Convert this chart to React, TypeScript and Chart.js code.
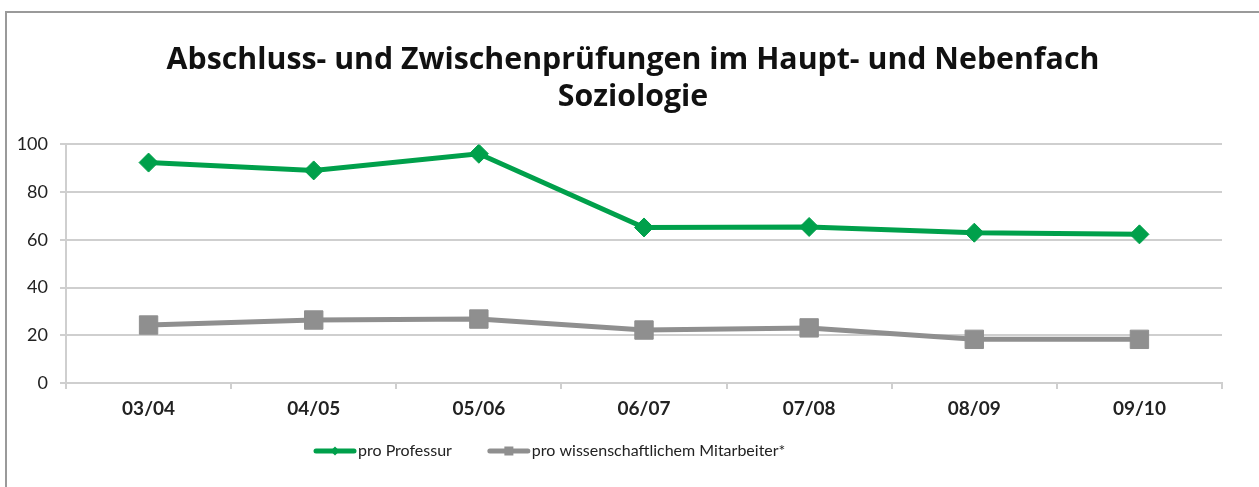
import React, { useEffect, useRef } from "react";
import { Chart, registerables } from "chart.js";

Chart.register(...registerables);

const categories = ["03/04", "04/05", "05/06", "06/07", "07/08", "08/09", "09/10"];
const proProfessur = [92.4, 89.1, 96.1, 65.2, 65.4, 63.0, 62.3];
const proMitarbeiter = [24.3, 26.4, 26.8, 22.2, 23.1, 18.3, 18.3];
const seriesNames = ["pro Professur", "pro wissenschaftlichem Mitarbeiter*"];
const titleLines = ["Abschluss- und Zwischenprüfungen im Haupt- und Nebenfach", "Soziologie"];

const GREEN = "#00a04b";
const GRAY = "#8f8f8f";
const GRID = "#cfcfcf";
const FONT = "Lato, 'Noto Sans', sans-serif";
const TITLE_FONT = "'Open Sans', 'Noto Sans', sans-serif";

const framePlugin = {
  id: "frame",
  afterLayout(chart: any) {
    const t = chart.titleBlock;
    if (t) {
      t.left += 19;
      t.right += 19;
    }
  },
  beforeDraw(chart: any) {
    const ctx = chart.ctx;
    ctx.save();
    ctx.fillStyle = "#ffffff";
    ctx.fillRect(0, 0, chart.width, chart.height);
    ctx.strokeStyle = "#9a9a9a";
    ctx.lineWidth = 2;
    ctx.beginPath();
    ctx.moveTo(6, chart.height);
    ctx.lineTo(6, 12);
    ctx.lineTo(chart.width, 12);
    ctx.stroke();
    ctx.restore();
  },
};

const legendPlugin = {
  id: "customLegend",
  afterDraw(chart: any) {
    const ctx = chart.ctx;
    ctx.save();
    ctx.font = `16px ${FONT}`;
    ctx.textBaseline = "middle";
    ctx.textAlign = "left";
    let x = 314;
    const y = 451;
    chart.data.datasets.forEach((ds: any, i: number) => {
      ctx.strokeStyle = ds.borderColor;
      ctx.lineWidth = 5;
      ctx.lineCap = "round";
      ctx.beginPath();
      ctx.moveTo(x + 2, y);
      ctx.lineTo(x + 40, y);
      ctx.stroke();
      ctx.fillStyle = ds.borderColor;
      if (i === 0) {
        ctx.beginPath();
        ctx.moveTo(x + 21 - 4.5, y);
        ctx.lineTo(x + 21, y - 4.5);
        ctx.lineTo(x + 21 + 4.5, y);
        ctx.lineTo(x + 21, y + 4.5);
        ctx.closePath();
        ctx.fill();
      } else {
        ctx.fillRect(x + 21 - 4.5, y - 4.5, 9, 9);
      }
      ctx.fillStyle = "#222222";
      ctx.fillText(ds.label, x + 44, y);
      x += 44 + ctx.measureText(ds.label).width + 36;
    });
    ctx.restore();
  },
};

export default function App() {
  const ref = useRef<HTMLCanvasElement | null>(null);

  useEffect(() => {
    if (!ref.current) return;
    const chart = new Chart(ref.current, {
      type: "line",
      data: {
        labels: categories,
        datasets: [
          {
            label: seriesNames[0],
            data: proProfessur,
            borderColor: GREEN,
            backgroundColor: GREEN,
            borderWidth: 5,
            pointStyle: "rectRot",
            pointRadius: 9.5,
            pointBorderWidth: 1,
            tension: 0,
          },
          {
            label: seriesNames[1],
            data: proMitarbeiter,
            borderColor: GRAY,
            backgroundColor: GRAY,
            borderWidth: 5,
            pointStyle: "rect",
            pointRadius: 13,
            pointBorderWidth: 1,
            tension: 0,
          },
        ],
      },
      options: {
        animation: false,
        responsive: false,
        maintainAspectRatio: false,
        layout: { padding: { left: 6, right: 37, top: 0, bottom: 54 } },
        plugins: {
          legend: { display: false },
          tooltip: { enabled: false },
          title: {
            display: true,
            text: titleLines,
            color: "#111111",
            font: { family: TITLE_FONT, size: 30.3, weight: "bold", lineHeight: 1.22 },
            padding: { top: 42, bottom: 28.5 },
          },
        },
        scales: {
          x: {
            offset: true,
            grid: {
              offset: true,
              drawOnChartArea: false,
              drawTicks: true,
              tickLength: 6,
              color: GRID,
              lineWidth: 2,
            },
            border: { display: true, color: GRID, width: 2 },
            ticks: {
              color: "#222222",
              font: { family: FONT, size: 19, weight: "bold" },
              padding: 8,
              maxRotation: 0,
            },
            afterFit: (scale: any) => {
              scale.height = 50;
            },
          },
          y: {
            min: 0,
            max: 100,
            ticks: {
              stepSize: 20,
              color: "#222222",
              font: { family: FONT, size: 18 },
              padding: 12,
            },
            grid: { color: GRID, lineWidth: 2, tickLength: 6 },
            border: { display: true, color: GRID, width: 2 },
            afterFit: (scale: any) => {
              scale.width = 60;
            },
          },
        },
      },
      plugins: [framePlugin, legendPlugin],
    });
    return () => chart.destroy();
  }, []);

  return (
    <div style={{ position: "fixed", left: 0, top: 0, width: 1259, height: 487 }}>
      <canvas ref={ref} width={1259} height={487} style={{ display: "block" }} />
    </div>
  );
}
